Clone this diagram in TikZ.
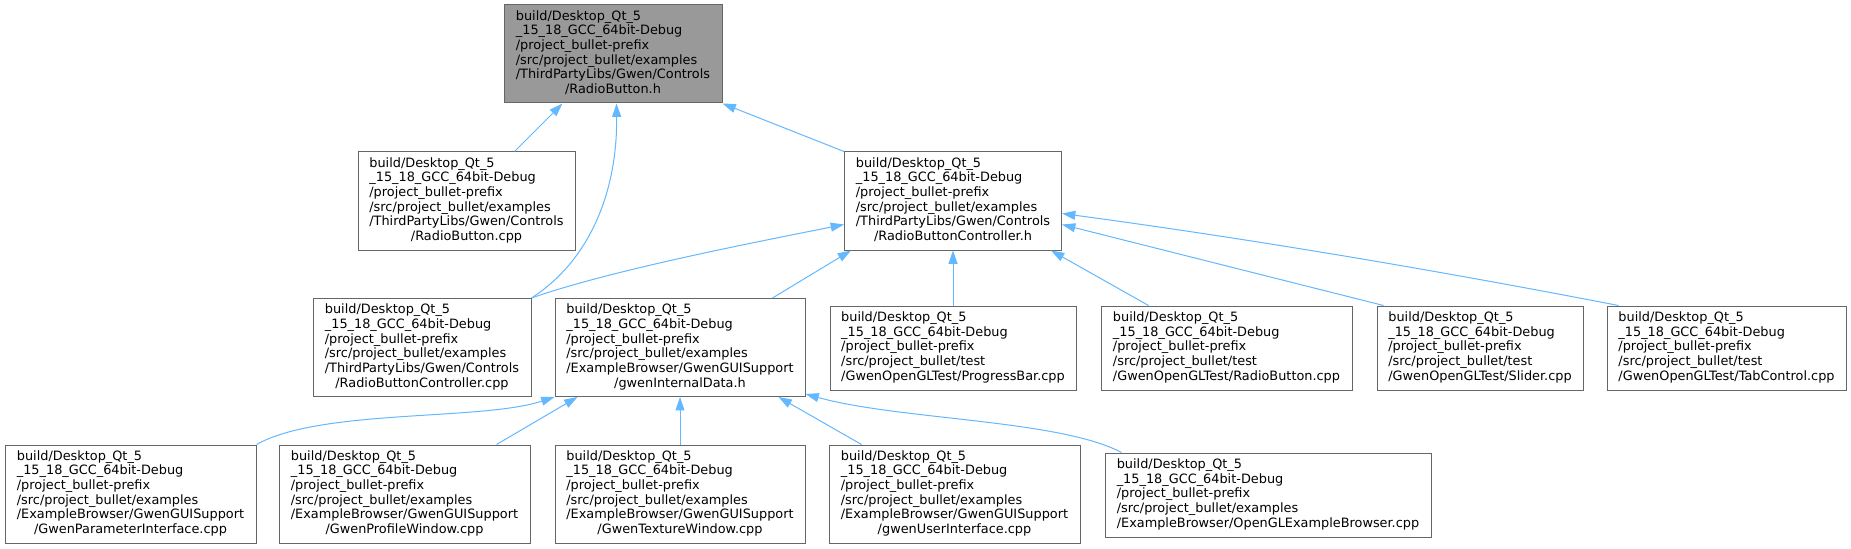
\documentclass[tikz,border=0pt]{standalone}
\usepackage{fontspec}
\setmainfont{DejaVu Sans}
\usepackage{tikz}
\usetikzlibrary{arrows.meta,calc}
\definecolor{edgeblue}{HTML}{63B8FF}
\definecolor{boxgrey}{HTML}{666666}
\definecolor{rootgrey}{HTML}{999999}
\newcommand{\pxu}{0.75pt}
\newcommand{\pfx}{build/Desktop\_Qt\_5\\\_15\_18\_GCC\_64bit-Debug\\/project\_bullet-prefix\\/src/project\_bullet}
\newcommand{\fpath}[2]{\begin{tabular}{@{}l@{}}#1\\\multicolumn{1}{@{}c@{}}{#2}\end{tabular}}
\newcommand{\fpathl}[1]{\begin{tabular}{@{}l@{}}#1\end{tabular}}
\tikzset{
  file/.style={rectangle, draw=boxgrey, fill=white, line width=\pxu, inner sep=0pt, font=\fontsize{9.65}{11}\selectfont},
  rootfile/.style={file, fill=rootgrey},
  wh/.style 2 args={minimum width=#1*\pxu, minimum height=#2*\pxu},
  arr/.style={-{Triangle[length=10pt,width=6.7pt]}, draw=edgeblue, line width=\pxu},
}

\begin{document}
\begin{tikzpicture}[x=\pxu,y=-\pxu]
  \fill[white] (0,0) rectangle (1851,549);
  \useasboundingbox (0,0) rectangle (1851,549);
  % included header
  \node[rootfile,wh={218}{98}] (root) at (613,54) {\fpath{\pfx/examples\\/ThirdPartyLibs/Gwen/Controls}{/RadioButton.h}};
  % second row
  \node[file,wh={217}{98}] (rbcpp) at (466.5,201) {\fpath{\pfx/examples\\/ThirdPartyLibs/Gwen/Controls}{/RadioButton.cpp}};
  \node[file,wh={217}{98}] (rbch) at (953,201) {\fpath{\pfx/examples\\/ThirdPartyLibs/Gwen/Controls}{/RadioButtonController.h}};
  % third row
  \node[file,wh={218}{98}] (rbccpp) at (422,347.5) {\fpath{\pfx/examples\\/ThirdPartyLibs/Gwen/Controls}{/RadioButtonController.cpp}};
  \node[file,wh={250}{98}] (gid) at (680,347.5) {\fpath{\pfx/examples\\/ExampleBrowser/GwenGUISupport}{/gwenInternalData.h}};
  \node[file,wh={246}{84}] (pbar) at (953,348) {\fpathl{\pfx/test\\/GwenOpenGLTest/ProgressBar.cpp}};
  \node[file,wh={251}{84}] (trb) at (1226.5,348) {\fpathl{\pfx/test\\/GwenOpenGLTest/RadioButton.cpp}};
  \node[file,wh={206}{84}] (slider) at (1480,348) {\fpathl{\pfx/test\\/GwenOpenGLTest/Slider.cpp}};
  \node[file,wh={239}{84}] (tab) at (1726.5,348) {\fpathl{\pfx/test\\/GwenOpenGLTest/TabControl.cpp}};
  % bottom row
  \node[file,wh={251}{98}] (gpi) at (130.5,494) {\fpath{\pfx/examples\\/ExampleBrowser/GwenGUISupport}{/GwenParameterInterface.cpp}};
  \node[file,wh={251}{98}] (gpw) at (404.5,494) {\fpath{\pfx/examples\\/ExampleBrowser/GwenGUISupport}{/GwenProfileWindow.cpp}};
  \node[file,wh={250}{98}] (gtw) at (680,494) {\fpath{\pfx/examples\\/ExampleBrowser/GwenGUISupport}{/GwenTextureWindow.cpp}};
  \node[file,wh={251}{98}] (gui) at (954.5,494) {\fpath{\pfx/examples\\/ExampleBrowser/GwenGUISupport}{/gwenUserInterface.cpp}};
  \node[file,wh={326}{84}] (ogl) at (1268,495) {\fpathl{\pfx/examples\\/ExampleBrowser/OpenGLExampleBrowser.cpp}};
  % edges to RadioButton.h
  \draw[arr] ($(rbcpp.north west)+(157,0)$) -- ($(root.south west)+(59,0)$);
  \draw[arr] (rbccpp.north east) .. controls +(59,-38) and +(1,87) .. ($(root.south west)+(113,0)$);
  \draw[arr] (rbch.north west) -- (root.south east);
  % edges to RadioButtonController.h
  \draw[arr] (rbccpp.north east) .. controls +(80,-28) and +(-90,18) .. ($(rbch.north west)+(0,73)$);
  \draw[arr] ($(gid.north west)+(218,0)$) -- ($(rbch.south west)+(7,0)$);
  \draw[arr] (pbar.north) -- (pbar.north |- rbch.south);
  \draw[arr] ($(trb.north west)+(48,0)$) -- ($(rbch.south east)+(-11,0)$);
  \draw[arr] ($(slider.north west)+(7,0)$) -- ($(rbch.south east)+(0,-26)$);
  \draw[arr] ($(tab.north west)+(12,0)$) .. controls +(-186,-36) and +(186,25) .. ($(rbch.south east)+(0,-37)$);
  % edges to gwenInternalData.h
  \draw[arr] (gpi.north east) .. controls +(64,-36) and +(-73,24) .. (gid.south west);
  \draw[arr] ($(gpw.north west)+(218,0)$) -- ($(gid.south west)+(23,0)$);
  \draw[arr] (gtw.north) -- (gtw.north |- gid.south);
  \draw[arr] ($(gui.north west)+(33,0)$) -- ($(gid.south west)+(224,0)$);
  \draw[arr] ($(ogl.north west)+(17,0)$) .. controls +(-62,-33) and +(94,26) .. ($(gid.south east)+(0,-3)$);
\end{tikzpicture}
\end{document}
